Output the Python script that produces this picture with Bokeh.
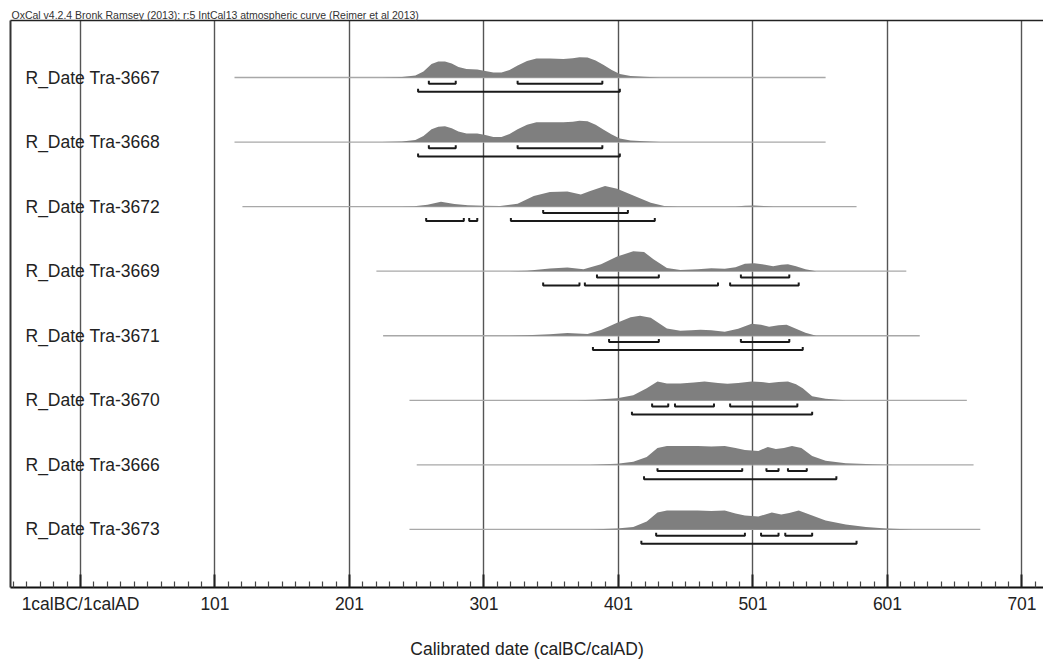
from bokeh.plotting import figure
from bokeh.models import Range1d, FixedTicker, LinearAxis
from bokeh.embed import file_html
from bokeh.resources import INLINE
from bokeh.core.properties import value

header = "OxCal v4.2.4 Bronk Ramsey (2013); r:5 IntCal13 atmospheric curve (Reimer et al 2013)"
labels = ["R_Date Tra-3667", "R_Date Tra-3668", "R_Date Tra-3672", "R_Date Tra-3669",
          "R_Date Tra-3671", "R_Date Tra-3670", "R_Date Tra-3666", "R_Date Tra-3673"]

line_start = [115.5, 115.5, 121.4, 221, 226, 245.6, 251, 245.6]
line_end = [555, 555, 578, 615, 625, 660, 665, 670]

r1_year = [225, 240, 250, 256, 262, 267, 272, 277, 282, 288, 296, 302, 308, 314, 320, 326, 333, 340, 350, 360, 367, 372, 378, 384, 390, 396, 402, 410, 420, 432]
r1_prob = [0, 0.5, 2, 6, 13.5, 16, 16, 14, 10.5, 8.5, 8, 6.5, 5, 5, 7.5, 12, 16.5, 19, 19, 18.7, 19.3, 20.3, 20, 17, 12.5, 7.5, 3.5, 1.5, 0.7, 0]
r2_year = [225, 240, 250, 256, 262, 267, 272, 277, 282, 288, 296, 302, 308, 314, 320, 326, 333, 340, 350, 360, 367, 372, 378, 384, 390, 396, 402, 410, 420, 432]
r2_prob = [0, 0.5, 2, 6, 13, 15.5, 16, 14, 10.5, 8.5, 8.5, 7, 5, 5, 8, 13, 17.5, 20, 20, 20, 20.5, 21.5, 21, 17.5, 12.5, 7.5, 3.5, 1.5, 0.7, 0]
r3_year = [240, 249, 259, 269, 279, 289, 301, 313, 326, 338, 350, 363, 373, 380, 391, 400, 412, 425, 435, 445, 488, 495, 502, 509, 516]
r3_prob = [0, 0.3, 2, 5, 2.7, 1.3, 0.8, 0.7, 3, 10.7, 14.7, 15.3, 12.3, 15.7, 20.7, 18, 11.3, 4, 0.7, 0.2, 0.2, 0.8, 1, 0.6, 0]
r4_year = [320, 333, 350, 363, 375, 388, 400, 412, 420, 427, 437, 447, 460, 470, 480, 488, 495, 502, 510, 516, 522, 527, 533, 540, 548]
r4_prob = [0, 0.5, 2.7, 3.7, 2, 7, 14.7, 20, 19.3, 12, 3.3, 1.3, 2, 3, 2.5, 4, 7.5, 8, 6.5, 5, 6.5, 7, 5, 2, 0]
r5_year = [320, 333, 350, 363, 378, 388, 400, 410, 417, 425, 437, 447, 455, 462, 470, 480, 490, 500, 507, 513, 520, 526, 533, 540, 548]
r5_prob = [0, 0.5, 1.5, 2.7, 1.7, 5.7, 13, 18.5, 20, 18, 7.3, 5, 5.5, 6, 5.5, 4, 7, 12, 11, 9, 10.5, 11, 7, 3, 0]
r6_year = [370, 383, 400, 412, 422, 430, 437, 447, 457, 465, 475, 482, 490, 500, 507, 513, 520, 527, 533, 538, 545, 555, 570]
r6_prob = [0, 0.5, 2, 5, 12, 19, 17, 17, 18, 19, 17.5, 16.5, 17.5, 19, 18.5, 17.5, 18.5, 19, 16, 12, 4, 1.5, 0]
r7_year = [380, 400, 412, 422, 430, 437, 447, 460, 470, 480, 488, 495, 505, 512, 518, 524, 530, 537, 545, 555, 570, 590, 605]
r7_prob = [0, 1, 3, 8, 17, 19, 19, 19, 18.5, 19, 17, 15, 14, 18, 16, 17, 19, 17, 9, 4, 1.5, 0.5, 0]
r8_year = [380, 400, 412, 422, 430, 437, 447, 460, 470, 480, 488, 495, 505, 515, 522, 528, 535, 545, 555, 570, 585, 600, 620]
r8_prob = [0, 1, 2.3, 8, 17, 19, 19, 19, 18.5, 19, 16, 14, 13, 17, 15, 16.5, 19, 14, 9, 5, 2.5, 1, 0]

range68 = [
    [(260, 280), (326, 389)],
    [(260, 280), (326, 389)],
    [(345, 408)],
    [(385, 431), (492, 528)],
    [(394, 431), (492, 528)],
    [(426, 438), (443, 472), (484, 534)],
    [(430, 493), (511, 520), (527, 541)],
    [(429, 495), (507, 520), (525, 545)],
]
range95 = [
    [(252, 402)],
    [(252, 402)],
    [(258, 286), (290, 296), (321, 428)],
    [(345, 372), (376, 475), (484, 535)],
    [(382, 538)],
    [(411, 545)],
    [(420, 563)],
    [(418, 578)],
]

tick_major = [1, 101, 201, 301, 401, 501, 601, 701]
tick_text = ["1calBC/1calAD", "101", "201", "301", "401", "501", "601", "701"]
tick_minor = [t for t in range(-49, 718, 10) if t not in tick_major]

years = [r1_year, r2_year, r3_year, r4_year, r5_year, r6_year, r7_year, r8_year]
probs = [r1_prob, r2_prob, r3_prob, r4_prob, r5_prob, r6_prob, r7_prob, r8_prob]

ROW_PX = 64.9
k = 1.0 / ROW_PX
FONT = "Liberation Sans"

p = figure(width=1043, height=661, output_backend="svg", toolbar_location=None,
           x_range=Range1d(-51.04, 717.0), y_range=Range1d(7.90, -0.883),
           min_border_left=10, min_border_right=0, min_border_top=20, min_border_bottom=71,
           title=header)
p.outline_line_color = None
p.background_fill_color = "white"
p.title.text_font = FONT
p.title.text_font_size = "10.5px"
p.title.text_font_style = "normal"
p.title.text_color = "#333333"
p.title.align = "left"
p.title.offset = 1
p.title.standoff = 0

# grid
p.ygrid.visible = False
p.xgrid.ticker = FixedTicker(ticks=tick_major)
p.xgrid.grid_line_color = "#555555"
p.xgrid.grid_line_width = 1.4

# bottom axis
xa = p.xaxis[0]
xa.ticker = FixedTicker(ticks=tick_major, minor_ticks=tick_minor)
xa.major_label_overrides = {t: s for t, s in zip(tick_major, tick_text)}
xa.major_tick_in = 13
xa.major_tick_out = 0
xa.minor_tick_in = 6
xa.minor_tick_out = 0
xa.major_tick_line_width = 2
xa.minor_tick_line_width = 1.2
xa.major_tick_line_color = "#222222"
xa.minor_tick_line_color = "#444444"
xa.axis_line_width = 2
xa.axis_line_color = "#111111"
xa.major_label_text_font = FONT
xa.major_label_text_font_size = "17.5px"
xa.major_label_text_color = "#222222"
xa.major_label_standoff = 6
xa.axis_label = "Calibrated date (calBC/calAD)"
xa.axis_label_text_font = FONT
xa.axis_label_text_font_size = "17.5px"
xa.axis_label_text_font_style = "normal"
xa.axis_label_text_color = "#222222"
xa.axis_label_standoff = 22

# left border axis
ya = p.yaxis[0]
ya.ticker = FixedTicker(ticks=[])
ya.major_tick_out = 0
ya.minor_tick_out = 0
ya.major_label_standoff = 0
ya.major_label_text_font_size = "0px"
ya.axis_line_width = 2
ya.axis_line_color = "#333333"

# top border axis
ta = LinearAxis(ticker=FixedTicker(ticks=[]), major_tick_out=0, minor_tick_out=0,
                major_label_standoff=0, major_label_text_font_size="0px",
                axis_line_width=1.5, axis_line_color="#222222")
p.add_layout(ta, "above")

rows = list(range(len(labels)))

# baselines
p.segment(x0=line_start, y0=rows, x1=line_end, y1=rows, line_color="#a8a8a8", line_width=1.3)

# distributions
for i, (xs, hs) in enumerate(zip(years, probs)):
    p.varea(x=xs, y1=[i] * len(xs), y2=[i - h * k for h in hs], fill_color="#7f7f7f")

# brackets
def bracket_lines(ranges, off_px, tick_px=3.0):
    bx, by = [], []
    for i, segs in enumerate(ranges):
        yb = i + off_px * k
        yt = yb - tick_px * k
        for a, b in segs:
            bx.append([a, a, b, b])
            by.append([yt, yb, yb, yt])
    return bx, by

bx, by = bracket_lines(range68, 6.3)
p.multi_line(xs=bx, ys=by, line_color="#1a1a1a", line_width=2)
bx, by = bracket_lines(range95, 14.4)
p.multi_line(xs=bx, ys=by, line_color="#1a1a1a", line_width=2)

# row labels
p.text(x=[p.x_range.start] * len(labels), y=rows, text=labels, x_offset=15,
       text_baseline="middle", text_align="left", text_font=value(FONT),
       text_font_size="17.5px", text_color="#222222")

open("out.html", "w").write(file_html(p, INLINE))
